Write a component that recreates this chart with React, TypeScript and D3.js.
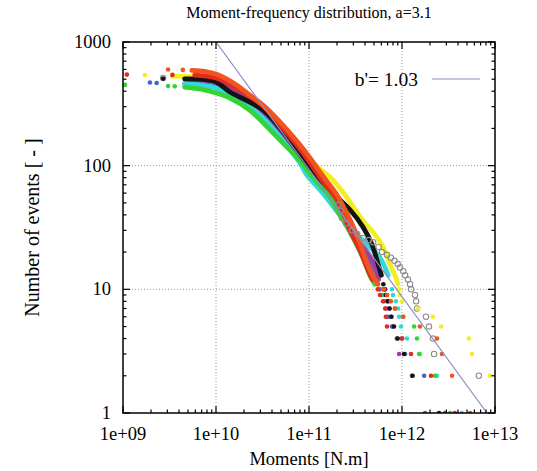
import React from "react";
import * as d3 from "d3";

type Pt = [number, number];

const TITLE = "Moment-frequency distribution, a=3.1";
const X_LABEL = "Moments [N.m]";
const Y_LABEL = "Number of events [ - ]";
const X_TICK_VALUES = [1e9, 1e10, 1e11, 1e12, 1e13];
const X_TICK_LABELS = ["1e+09", "1e+10", "1e+11", "1e+12", "1e+13"];
const Y_TICK_VALUES = [1, 10, 100, 1000];
const Y_TICK_LABELS = ["1", "10", "100", "1000"];

// fitted power law, b' = 1.03
const FIT_LABEL = "b'= 1.03";
const fitLine: Pt[] = [[1.0e10, 1000], [8.2e12, 1]];

// cumulative counts [moment, N]
const orangeCurve: Pt[] = [[5.5e9, 590], [7.6e9, 578], [1.0e10, 551], [1.6e10, 458], [2.3e10, 373], [3.2e10, 309], [4.9e10, 225], [7.4e10, 158], [1.03e11, 115], [1.42e11, 82], [2.0e11, 58], [2.6e11, 40], [3.3e11, 27], [3.9e11, 19], [4.8e11, 13], [5.5e11, 11]];
const orangeDots: Pt[] = [[3.05e9, 600], [4.4e9, 595], [6.4e11, 10], [6.9e11, 9], [7.6e11, 8], [8.4e11, 7], [1.03e12, 6], [1.56e12, 5], [2.38e12, 4], [2.69e12, 3], [3.45e12, 2], [5.4e12, 1]];

const redCurve: Pt[] = [[5.9e9, 540], [1.0e10, 512], [1.8e10, 409], [3.2e10, 304], [4.9e10, 213], [7.4e10, 147], [1.03e11, 105], [1.42e11, 74], [2.0e11, 53], [2.76e11, 30], [3.5e11, 21], [4.2e11, 15], [4.8e11, 12]];
const redDots: Pt[] = [[1.1e9, 545], [3.4e9, 542], [5.5e11, 10], [5.8e11, 9], [6.25e11, 8], [6.6e11, 7], [6.7e11, 6], [6.9e11, 5], [1.0e12, 4], [1.25e12, 3], [2.05e12, 2], [3.7e12, 1]];

const blackCurve: Pt[] = [[4.6e9, 503], [6.7e9, 500], [1.0e10, 475], [1.41e10, 394], [3.2e10, 282], [5.8e10, 171], [1.03e11, 96], [1.68e11, 64], [2.15e11, 53], [2.76e11, 44], [3.8e11, 32], [4.76e11, 23], [5.4e11, 17], [6.0e11, 13]];
const blackDots: Pt[] = [[2.7e9, 506], [6.3e11, 11], [6.5e11, 10], [6.7e11, 9], [7.0e11, 8], [7.3e11, 7], [7.7e11, 6], [8.2e11, 5], [9.0e11, 4], [1.05e12, 3], [1.3e12, 2], [2.5e12, 1]];

const purpleCurve: Pt[] = [[5.0e9, 495], [1.0e10, 470], [3.2e10, 270], [1.03e11, 92], [2.76e11, 33], [4.8e11, 17], [5.6e11, 12]];
const purpleDots: Pt[] = [[6.6e11, 10], [6.9e11, 9], [7.25e11, 8], [7.4e11, 7], [7.6e11, 6], [8.0e11, 5], [8.8e11, 4], [9.3e11, 3], [1.28e12, 2], [1.77e12, 1]];

const blueCurve: Pt[] = [[4.6e9, 460], [1.0e10, 430], [3.2e10, 255], [1.0e11, 85], [2.15e11, 40], [3.9e11, 20], [5.0e11, 12]];
const blueDots: Pt[] = [[1.95e9, 470], [2.3e9, 466], [5.8e11, 10], [6.1e11, 9], [6.4e11, 8], [6.7e11, 7], [7.1e11, 6], [7.8e11, 5], [1.0e12, 4], [1.08e12, 3], [1.73e12, 2], [2.9e12, 1]];

const cyanCurve: Pt[] = [[4.6e9, 458], [6.7e9, 449], [1.0e10, 425], [1.8e10, 340], [3.2e10, 243], [5.5e10, 152], [8.0e10, 105], [9.5e10, 84], [1.31e11, 64], [2.15e11, 40], [2.76e11, 31], [3.8e11, 25], [5.8e11, 18], [7.1e11, 13]];
const cyanDots: Pt[] = [[7.8e11, 10], [8.0e11, 9], [8.6e11, 8], [9.1e11, 7], [9.3e11, 6], [9.75e11, 5], [1.13e12, 4], [1.52e12, 3], [2.38e12, 2], [4.4e12, 1]];

const greenCurve: Pt[] = [[4.6e9, 432], [6.7e9, 417], [1.0e10, 387], [1.41e10, 352], [2.3e10, 282], [4.1e10, 184], [7.4e10, 117], [1.1e11, 81], [1.68e11, 56], [2.0e11, 44], [2.76e11, 29], [3.8e11, 18], [4.5e11, 13], [5.1e11, 11]];
const greenDots: Pt[] = [[1.05e9, 450], [3.05e9, 441], [3.6e9, 438], [6.25e11, 10], [6.4e11, 9], [6.9e11, 8], [8.4e11, 7], [1.03e12, 6], [1.35e12, 5], [1.45e12, 4], [1.55e12, 3], [2.26e12, 2], [3.3e12, 1]];

const yellowCurve: Pt[] = [[3.36e9, 530], [5.25e9, 525], [1.0e10, 493], [3.0e10, 293], [6.25e10, 161], [1.1e11, 105], [1.68e11, 81], [2.32e11, 61], [3.8e11, 36], [4.9e11, 29], [6.25e11, 22], [7.4e11, 16], [8.4e11, 13], [9.06e11, 11]];
const yellowDots: Pt[] = [[1.72e9, 541], [9.3e11, 10], [9.5e11, 9], [1.0e12, 8], [1.49e12, 7], [2.15e12, 6], [2.63e12, 5], [5.25e12, 4], [5.66e12, 3], [8.8e12, 2]];

const greyCurve: Pt[] = [[5.0e9, 505], [1.0e10, 480], [3.2e10, 280], [1.03e11, 100], [2.0e11, 55]];
const greyDots: Pt[] = [[2.7e9, 512], [2.05e11, 48], [2.2e11, 43], [2.25e11, 38], [2.5e11, 34], [2.9e11, 30], [3.3e11, 28], [3.8e11, 26], [4.4e11, 25], [4.9e11, 24], [5.6e11, 22], [6.1e11, 20], [6.9e11, 19], [7.6e11, 18], [8.3e11, 17], [9.0e11, 16], [9.5e11, 15], [1.03e12, 14], [1.08e12, 13], [1.16e12, 12], [1.22e12, 11], [1.25e12, 10], [1.38e12, 9], [1.42e12, 8], [1.45e12, 7], [1.81e12, 6], [1.95e12, 5], [2.15e12, 4], [2.21e12, 3], [6.7e12, 2]];

const series = [
  { key: "grey", color: "#8e8e8e", curve: greyCurve, dots: greyDots, hollow: true },
  { key: "yellow", color: "#f2ee22", curve: yellowCurve, dots: yellowDots, hollow: false },
  { key: "blue", color: "#4461d0", curve: blueCurve, dots: blueDots, hollow: false },
  { key: "purple", color: "#9a3f9e", curve: purpleCurve, dots: purpleDots, hollow: false },
  { key: "cyan", color: "#35d8d8", curve: cyanCurve, dots: cyanDots, hollow: false },
  { key: "green", color: "#33d433", curve: greenCurve, dots: greenDots, hollow: false },
  { key: "black", color: "#141414", curve: blackCurve, dots: blackDots, hollow: false },
  { key: "red", color: "#e42a1e", curve: redCurve, dots: redDots, hollow: false },
  { key: "orange", color: "#f2541f", curve: orangeCurve, dots: orangeDots, hollow: false },
];

const FONT = "'Liberation Serif', 'Times New Roman', serif";
const txt = { fontFamily: FONT, fill: "#000" };

export default function App() {
  const width = 537;
  const height = 471;
  const left = 123, right = 495, top = 42, bottom = 413;

  const x = d3.scaleLog().domain([1e9, 1e13]).range([left, right]);
  const y = d3.scaleLog().domain([1, 1000]).range([bottom, top]);

  const line = d3
    .line<Pt>()
    .x((d) => x(d[0]))
    .y((d) => y(d[1]))
    .curve(d3.curveCatmullRom.alpha(0.5));

  const isMajor = (t: number) => Math.abs(Math.log10(t) - Math.round(Math.log10(t))) < 1e-9;
  const xTicks = x.ticks();
  const yTicks = y.ticks();

  return (
    <svg
      width={width}
      height={height}
      style={{ position: "absolute", left: 0, top: 0, background: "#fff", fontFamily: FONT }}
    >
      <defs>
        <clipPath id="plot">
          <rect x={left} y={top} width={right - left} height={bottom - top} />
        </clipPath>
      </defs>
      <rect width={width} height={height} fill="#fff" />

      {/* grid */}
      {X_TICK_VALUES.slice(1, -1).map((t) => (
        <line key={"gx" + t} x1={x(t)} x2={x(t)} y1={top} y2={bottom} stroke="#9a9a9a" strokeWidth={1} strokeDasharray="1,2" />
      ))}
      {Y_TICK_VALUES.slice(1, -1).map((t) => (
        <line key={"gy" + t} x1={left} x2={right} y1={y(t)} y2={y(t)} stroke="#9a9a9a" strokeWidth={1} strokeDasharray="1,2" />
      ))}

      <g clipPath="url(#plot)">
        {series.map((s) => (
          <path
            key={"c" + s.key}
            d={line(s.curve) || ""}
            fill="none"
            stroke={s.color}
            strokeWidth={s.hollow ? 3 : 4.8}
            strokeLinecap="round"
            strokeLinejoin="round"
          />
        ))}
        {series.map((s) => (
          <g key={"d" + s.key}>
            {s.dots.map((d, i) =>
              s.hollow ? (
                <circle key={i} cx={x(d[0])} cy={y(d[1])} r={2.7} fill="none" stroke={s.color} strokeWidth={1.1} />
              ) : (
                <circle key={i} cx={x(d[0])} cy={y(d[1])} r={2.3} fill={s.color} />
              )
            )}
          </g>
        ))}
        <line
          x1={x(fitLine[0][0])}
          y1={y(fitLine[0][1])}
          x2={x(fitLine[1][0])}
          y2={y(fitLine[1][1])}
          stroke="#8d8dc8"
          strokeWidth={1.2}
        />
      </g>

      {/* ticks on all four sides */}
      {xTicks.map((t, i) => {
        const len = isMajor(t) ? 7 : 3.5;
        return (
          <g key={"tx" + i}>
            <line x1={x(t)} x2={x(t)} y1={bottom} y2={bottom - len} stroke="#000" strokeWidth={1.2} />
            <line x1={x(t)} x2={x(t)} y1={top} y2={top + len} stroke="#000" strokeWidth={1.2} />
          </g>
        );
      })}
      {yTicks.map((t, i) => {
        const len = isMajor(t) ? 7 : 3.5;
        return (
          <g key={"ty" + i}>
            <line x1={left} x2={left + len} y1={y(t)} y2={y(t)} stroke="#000" strokeWidth={1.2} />
            <line x1={right} x2={right - len} y1={y(t)} y2={y(t)} stroke="#000" strokeWidth={1.2} />
          </g>
        );
      })}

      <rect x={left} y={top} width={right - left} height={bottom - top} fill="none" stroke="#000" strokeWidth={1.5} />

      {X_TICK_VALUES.map((t, i) => (
        <text key={"lx" + t} x={x(t)} y={440} textAnchor="middle" fontSize={18.5} style={txt}>
          {X_TICK_LABELS[i]}
        </text>
      ))}
      {Y_TICK_VALUES.map((t, i) => (
        <text key={"ly" + t} x={111} y={y(t) + 6} textAnchor="end" fontSize={18.5} style={txt}>
          {Y_TICK_LABELS[i]}
        </text>
      ))}

      <text x={(left + right) / 2} y={18} textAnchor="middle" fontSize={16} style={txt}>
        {TITLE}
      </text>
      <text x={(left + right) / 2} y={465} textAnchor="middle" fontSize={18.5} style={txt}>
        {X_LABEL}
      </text>
      <text transform={`translate(39, ${(top + bottom) / 2}) rotate(-90)`} textAnchor="middle" fontSize={20} style={txt}>
        {Y_LABEL}
      </text>

      {/* legend */}
      <text x={418} y={86} textAnchor="end" fontSize={19.5} style={txt}>
        {FIT_LABEL}
      </text>
      <line x1={432} x2={480} y1={79} y2={79} stroke="#8d8dc8" strokeWidth={1.2} />
    </svg>
  );
}
